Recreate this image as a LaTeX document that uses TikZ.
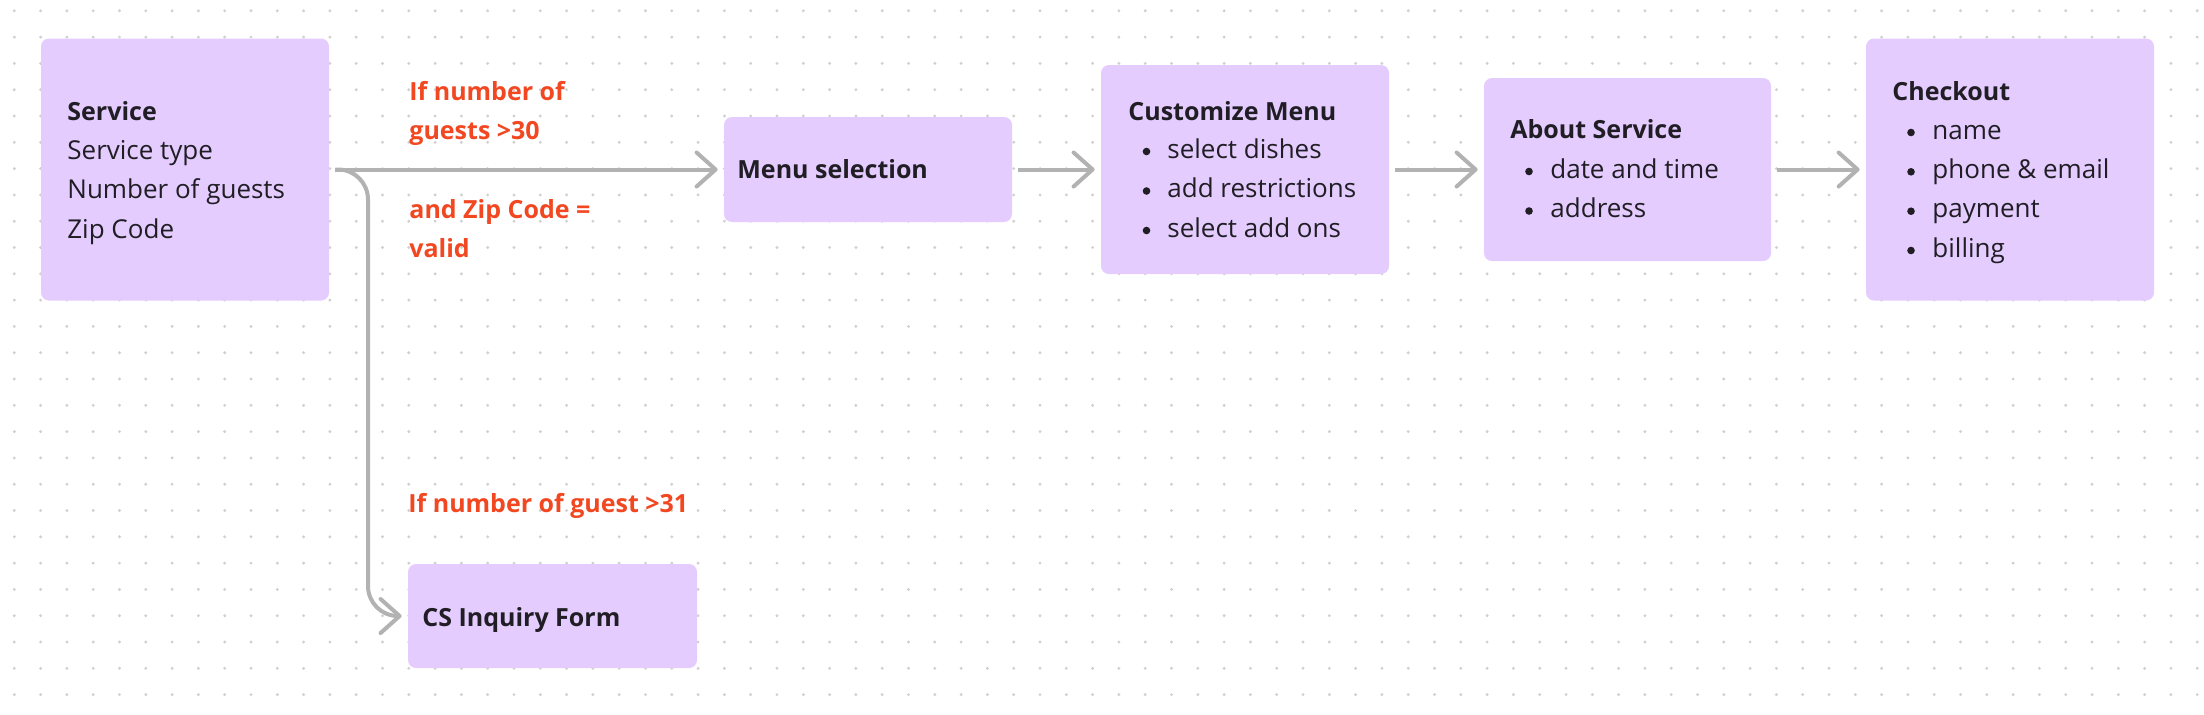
\documentclass[tikz,border=0pt]{standalone}
\usepackage{fontspec}
\setmainfont{Open Sans}
\usetikzlibrary{arrows.meta}
\definecolor{boxfill}{RGB}{228,204,255}
\definecolor{ink}{RGB}{32,30,36}
\definecolor{cond}{RGB}{242,72,34}
\definecolor{wire}{RGB}{178,178,178}
\definecolor{griddot}{RGB}{208,208,208}
\begin{document}
\begin{tikzpicture}[x=0.5pt,y=-0.5pt,
  card/.style={fill=boxfill, draw=none, rounded corners=4pt, inner sep=0pt, minimum width=144pt},
  txt/.style={anchor=base west, inner sep=0pt, text=ink, font=\fontsize{13}{15}\selectfont},
  ttl/.style={txt, font=\fontsize{12.5}{15}\selectfont\bfseries},
  condtxt/.style={anchor=base west, inner sep=0pt, text=cond, font=\fontsize{12.5}{15}\selectfont\bfseries},
  conn/.style={draw=wire, line width=2pt, shorten <=3pt, shorten >=3pt,
    -{Straight Barb[length=9.5pt, width=17pt, round]}},
  bulletdot/.style={fill=ink}
]
\fill[white] (0,0) rectangle (2204,714);
\useasboundingbox (0,0) rectangle (2204,714);
% dot grid
\foreach \i in {0,...,83}{\foreach \j in {0,...,26}{
  \fill[griddot] ({14.3+26.3*\i},{10.8+26.3*\j}) circle[radius=0.8pt];}}
% boxes
\node[card, minimum height=131pt] (svc) at (185,169.5) {};
\node[card, minimum height=52.5pt] (menu) at (868,169.5) {};
\node[card, minimum height=104.5pt] (cust) at (1245,169.5) {};
\node[card, minimum height=91.5pt, minimum width=143.5pt] (about) at (1627.5,169.5) {};
\node[card, minimum height=131pt] (chk) at (2010,169.5) {};
\node[card, minimum height=52pt, minimum width=144.5pt] (cs) at (552.5,616) {};
% service text
\node[ttl] (svcT) at (67,120) {Service};
\node[txt] (svc1) at (67,159.3) {Service type};
\node[txt] (svc2) at (67,198.7) {Number of guests};
\node[txt] (svc3) at (67,238) {Zip Code};
% menu selection
\node[ttl] (menuT) at (737,178) {Menu selection};
% customize
\node[ttl] (custT) at (1128,120) {Customize Menu};
\node[txt] (cust1) at (1167,158) {select dishes};
\node[txt] (cust2) at (1167,197.5) {add restrictions};
\node[txt] (cust3) at (1167,237) {select add ons};
\foreach \y in {158,197.5,237}{\fill[bulletdot] (1146.5,\y-6.5) circle[radius=1.9pt];}
% about
\node[ttl] (aboutT) at (1510,138) {About Service};
\node[txt] (about1) at (1550,178) {date and time};
\node[txt] (about2) at (1550,217.5) {address};
\foreach \y in {178,217.5}{\fill[bulletdot] (1529,\y-6.5) circle[radius=1.9pt];}
% checkout
\node[ttl] (chkT) at (1892,100) {Checkout};
\node[txt] (chk1) at (1932,139) {name};
\node[txt] (chk2) at (1932,178.3) {phone \& email};
\node[txt] (chk3) at (1932,217.7) {payment};
\node[txt] (chk4) at (1932,257) {billing};
\foreach \y in {139,178.3,217.7,257}{\fill[bulletdot] (1911,\y-6.5) circle[radius=1.9pt];}
% cs
\node[ttl] (csT) at (422,626) {CS Inquiry Form};
% condition labels
\node[condtxt] (c1) at (409,100) {If number of};
\node[condtxt] (c2) at (409,139) {guests >30};
\node[condtxt] (c3) at (409,218) {and Zip Code =};
\node[condtxt] (c4) at (409,257) {valid};
\node[condtxt] (c5) at (408,512) {If number of guest >31};
% connectors
\coordinate (bend) at (368,169.5);
\draw[conn, rounded corners=15pt] (svc.east) -- (bend) |- (cs.west);
\draw[conn] (svc) -- (menu);
\draw[conn] (menu) -- (cust);
\draw[conn] (cust) -- (about);
\draw[conn] (about) -- (chk);
\end{tikzpicture}
\end{document}
